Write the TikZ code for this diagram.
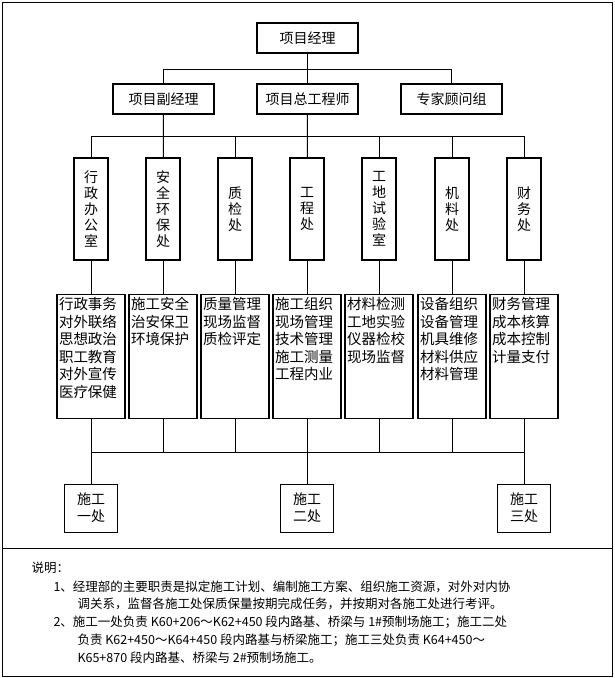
\documentclass[tikz,border=0pt]{standalone}
\usepackage{fontspec}
\setmainfont{Noto Sans CJK SC}
\usetikzlibrary{positioning}

\newcommand{\dutytext}[1]{\parbox[t][118pt][t]{64pt}{\raggedright #1}}

\tikzset{
  head/.style={draw, line width=1.3pt, minimum width=101pt, minimum height=30pt, font=\fontsize{14}{16}\selectfont},
  dept/.style={draw, line width=1.3pt, minimum width=34pt, minimum height=102pt, align=center, font=\fontsize{14}{16}\selectfont},
  duty/.style={draw, line width=1.3pt, anchor=north, inner xsep=2pt, inner ysep=3pt, font=\fontsize{14.5}{17.5}\selectfont},
  site/.style={draw, line width=1pt, minimum width=53pt, minimum height=48pt, align=center, font=\fontsize{14}{17}\selectfont},
  link/.style={line width=0.9pt}
}

\begin{document}
\begin{tikzpicture}[x=1pt, y=-1pt]
        \useasboundingbox (0,0) rectangle (615,678);
        % frame
        \draw[line width=1pt] (2,2) rectangle (612,676);
        \draw[line width=1pt] (2,548) -- (612,548);

        % top nodes
        \node[head] (pm) at (307.5,38) {项目经理};
        \node[head] (vice) at (163.5,99) {项目副经理};
        \node[head] (chief) at (307.5,99) {项目总工程师};
        \node[head] (expert) at (451.5,99) {专家顾问组};

        \coordinate (bus1l) at (vice.north |- 0,69);
        \coordinate (bus1r) at (expert.north |- 0,69);
        \draw[link] (pm) -- (chief);
        \draw[link] (bus1l) -- (bus1r);
        \draw[link] (bus1l) -- (vice);
        \draw[link] (bus1r) -- (expert);

        % department nodes
        \node[dept] (d1) at (91,209) {\fontsize{14}{19}\selectfont 行\\政\\办\\公\\室};
        \node[dept] (d2) at (163,209) {\fontsize{14}{19}\selectfont 安\\全\\环\\保\\处};
        \node[dept] (d3) at (235,209) {\fontsize{14}{31}\selectfont 质\\检\\处};
        \node[dept] (d4) at (307,209) {\fontsize{14}{31}\selectfont 工\\程\\处};
        \node[dept] (d5) at (379,209) {\fontsize{14}{19}\selectfont 工\\地\\试\\验\\室};
        \node[dept] (d6) at (452,209) {\fontsize{14}{31}\selectfont 机\\料\\处};
        \node[dept] (d7) at (524,209) {\fontsize{14}{31}\selectfont 财\\务\\处};

        % duty nodes
        \node[duty] (w1) at (91,294) {\dutytext{行政事务\\对外联络\\思想政治\\职工教育\\对外宣传\\医疗保健}};
        \node[duty] (w2) at (163,294) {\dutytext{施工安全\\治安保卫\\环境保护}};
        \node[duty] (w3) at (235,294) {\dutytext{质量管理\\现场监督\\质检评定}};
        \node[duty] (w4) at (307,294) {\dutytext{施工组织\\现场管理\\技术管理\\施工测量\\工程内业}};
        \node[duty] (w5) at (379,294) {\dutytext{材料检测\\工地实验\\仪器检校\\现场监督}};
        \node[duty] (w6) at (452,294) {\dutytext{设备组织\\设备管理\\机具维修\\材料供应\\材料管理}};
        \node[duty] (w7) at (524,294) {\dutytext{财务管理\\成本核算\\成本控制\\计量支付}};

        % site nodes
        \node[site] (s1) at (91,508) {施工\\一处};
        \node[site] (s2) at (307,508) {施工\\二处};
        \node[site] (s3) at (524,508) {施工\\三处};

        % buses
        \draw[link] (vice) -- (d2);
        \draw[link] (chief) -- (d4);
        \draw[link] (d1.north |- 0,136) -- (d7.north |- 0,136);
        \draw[link] (d1.south |- 0,452) -- (d7.south |- 0,452);
        \foreach \i in {1,...,7} {
          \draw[link] (d\i.north |- 0,136) -- (d\i);
          \draw[link] (d\i) -- (w\i);
          \draw[link] (w\i) -- (w\i.south |- 0,452);
        }
        \foreach \i/\j in {1/1,4/2,7/3}
          \draw[link] (w\i.south |- 0,452) -- (s\j);

        % notes
        \node[anchor=west, font=\fontsize{12.5}{15}\selectfont] (note) at (28,568) {说明：};
        \node[anchor=north west, align=left, font=\fontsize{12.5}{17.8}\selectfont] (items) at (50,577)
          {1、经理部的主要职责是拟定施工计划、编制施工方案、组织施工资源，对外对内协\\
           \hspace{24pt}调关系，监督各施工处保质保量按期完成任务，并按期对各施工处进行考评。\\
           2、施工一处负责 K60+206～K62+450 段内路基、桥梁与 1\#预制场施工；施工二处\\
           \hspace{24pt}负责 K62+450～K64+450 段内路基与桥梁施工；施工三处负责 K64+450～\\
           \hspace{24pt}K65+870 段内路基、桥梁与 2\#预制场施工。};
\end{tikzpicture}
\end{document}
